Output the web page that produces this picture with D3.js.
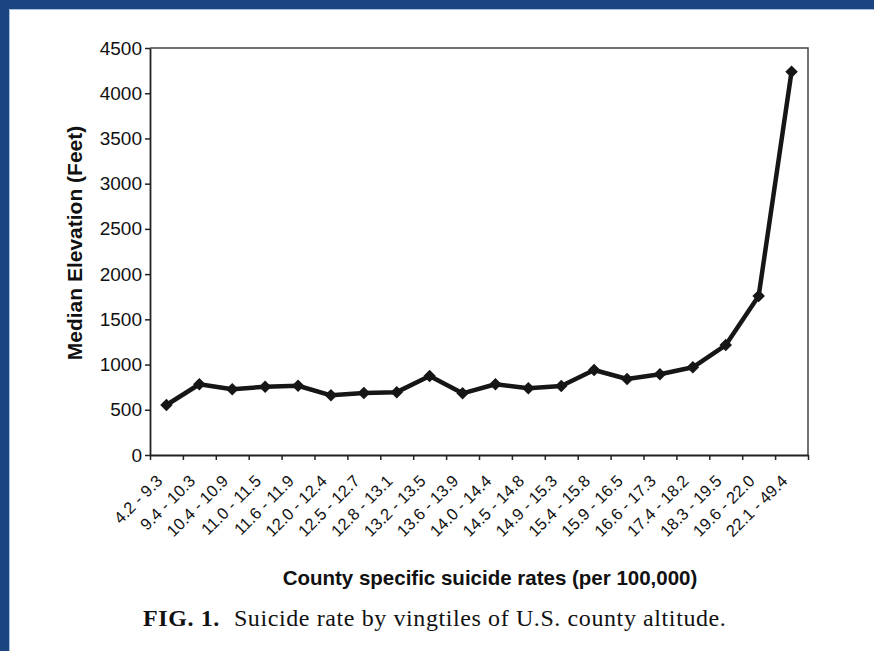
<!DOCTYPE html>
<html>
<head>
<meta charset="utf-8">
<script src="https://cdn.jsdelivr.net/npm/d3@7"></script>
<style>
  body { margin: 0; background: #fff; }
  svg { display: block; }
</style>
</head>
<body>
<div id="main_plot"></div>
<script>
// suicide-rate vingtiles and the median county elevation for each
var categories = ["4.2 - 9.3", "9.4 - 10.3", "10.4 - 10.9", "11.0 - 11.5", "11.6 - 11.9",
  "12.0 - 12.4", "12.5 - 12.7", "12.8 - 13.1", "13.2 - 13.5", "13.6 - 13.9",
  "14.0 - 14.4", "14.5 - 14.8", "14.9 - 15.3", "15.4 - 15.8", "15.9 - 16.5",
  "16.6 - 17.3", "17.4 - 18.2", "18.3 - 19.5", "19.6 - 22.0", "22.1 - 49.4"];
var elevation = [553, 782, 726, 755, 766, 660, 685, 695, 873, 682,
  782, 737, 762, 940, 840, 892, 970, 1216, 1758, 4238];
var yTicks = [0, 500, 1000, 1500, 2000, 2500, 3000, 3500, 4000, 4500];

var W = 874, H = 651;
var margin = {top: 48, right: 66, bottom: 196, left: 150},
    width = W - margin.left - margin.right,
    height = H - margin.top - margin.bottom;

var svgRoot = d3.select("#main_plot").append("svg")
    .attr("width", W)
    .attr("height", H);

// blue page border (top and left)
svgRoot.append("rect").attr("x", 0).attr("y", 0).attr("width", W).attr("height", 9).attr("fill", "#1b4580");
svgRoot.append("rect").attr("x", 0).attr("y", 0).attr("width", 9).attr("height", H).attr("fill", "#1b4580");
svgRoot.append("line").attr("x1", 9.5).attr("x2", 9.5).attr("y1", 9).attr("y2", H)
    .attr("stroke", "#a9bfdc").attr("stroke-width", 1);
svgRoot.append("line").attr("x1", 9).attr("x2", W).attr("y1", 9.5).attr("y2", 9.5)
    .attr("stroke", "#a9bfdc").attr("stroke-width", 1);

var svg = svgRoot.append("g")
    .attr("transform", "translate(" + margin.left + "," + margin.top + ")");

// scales
var x = d3.scaleBand().domain(categories).range([0, width]).padding(0);
var xEdge = d3.scaleLinear().domain([0, categories.length]).range([0, width]);
var y = d3.scaleLinear().domain([0, 4500]).range([height, 0]);

// frame top and right
svg.append("path")
    .attr("d", "M0,0H" + width + "V" + height)
    .attr("fill", "none")
    .attr("stroke", "#444")
    .attr("stroke-width", 1.5);

// y axis
var yAxis = svg.append("g")
    .call(d3.axisLeft(y).tickValues(yTicks).tickFormat(d3.format("d"))
      .tickSize(5).tickPadding(3).tickSizeOuter(0));
yAxis.select(".domain").attr("stroke", "#222").attr("stroke-width", 1.8);
yAxis.selectAll(".tick line").attr("stroke", "#222").attr("stroke-width", 1.5);
yAxis.selectAll("text")
    .attr("font-family", "Liberation Sans, Arial, sans-serif")
    .attr("font-size", 19)
    .attr("fill", "#111");

// x axis, ticks on the category edges
var xAxis = svg.append("g")
    .attr("transform", "translate(0," + height + ")")
    .call(d3.axisBottom(xEdge).tickValues(d3.range(0, categories.length + 1))
      .tickSize(5).tickFormat("").tickSizeOuter(0));
xAxis.select(".domain").attr("stroke", "#222").attr("stroke-width", 1.8);
xAxis.selectAll(".tick line").attr("stroke", "#222").attr("stroke-width", 1.5);

// rotated category labels
svg.append("g").selectAll("text")
    .data(categories)
    .join("text")
      .attr("transform", function(d) {
        return "translate(" + (x(d) + x.bandwidth() / 2 - 3) + "," + (height + 27) + ") rotate(-45)";
      })
      .attr("text-anchor", "end")
      .attr("font-family", "Liberation Sans, Arial, sans-serif")
      .attr("font-size", 16.5)
      .attr("fill", "#111")
      .text(function(d) { return d; });

// line
svg.append("path")
    .datum(elevation)
    .attr("fill", "none")
    .attr("stroke", "#161616")
    .attr("stroke-width", 4.5)
    .attr("stroke-linejoin", "round")
    .attr("d", d3.line()
      .x(function(d, i) { return x(categories[i]) + x.bandwidth() / 2; })
      .y(function(d) { return y(d); }));

// diamond markers
svg.append("g").selectAll("path")
    .data(elevation)
    .join("path")
      .attr("transform", function(d, i) {
        return "translate(" + (x(categories[i]) + x.bandwidth() / 2) + "," + y(d) + ")";
      })
      .attr("d", d3.symbol().type(d3.symbolDiamond2).size(100))
      .attr("fill", "#161616");

// axis titles
svgRoot.append("text")
    .attr("transform", "translate(82,243) rotate(-90)")
    .attr("text-anchor", "middle")
    .attr("font-family", "Liberation Sans, Arial, sans-serif")
    .attr("font-weight", "bold")
    .attr("font-size", 21)
    .attr("fill", "#111")
    .text("Median Elevation (Feet)");

svgRoot.append("text")
    .attr("x", 490)
    .attr("y", 585)
    .attr("text-anchor", "middle")
    .attr("font-family", "Liberation Sans, Arial, sans-serif")
    .attr("font-weight", "bold")
    .attr("font-size", 20.5)
    .attr("fill", "#111")
    .text("County specific suicide rates (per 100,000)");

// caption
var cap = svgRoot.append("text")
    .attr("x", 143)
    .attr("y", 626)
    .attr("font-family", "Liberation Serif, Times New Roman, serif")
    .attr("font-size", 24)
    .attr("letter-spacing", 0.6)
    .attr("fill", "#111");
cap.append("tspan").attr("font-weight", "bold").text("FIG. 1.");
cap.append("tspan").attr("dx", 14).text("Suicide rate by vingtiles of U.S. county altitude.");
</script>
</body>
</html>
